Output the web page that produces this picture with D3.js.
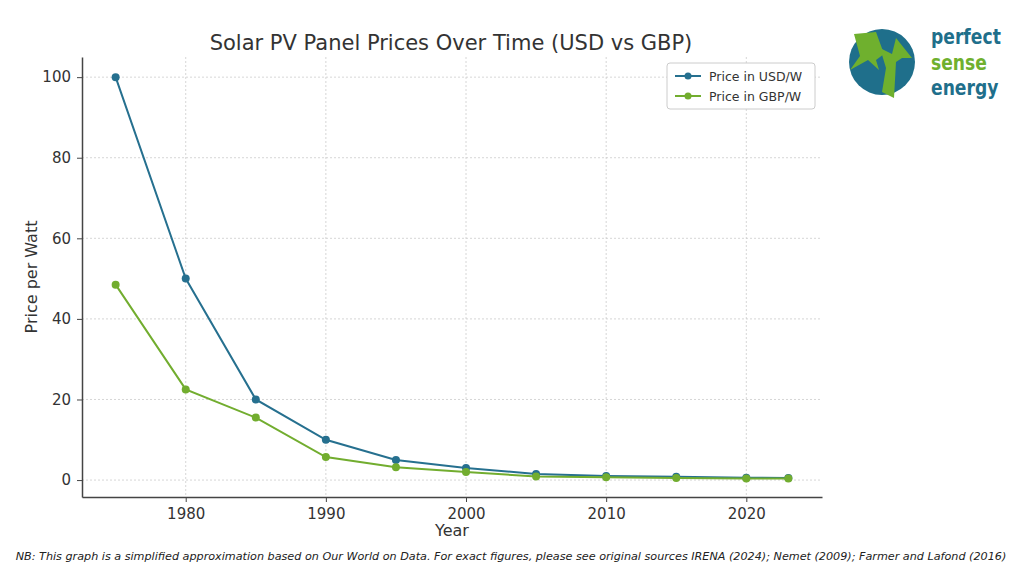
<!DOCTYPE html>
<html><head><meta charset="utf-8">
<script src="https://cdn.jsdelivr.net/npm/d3@7"></script>
<style>body{margin:0;background:#fff}text{font-family:"DejaVu Sans",sans-serif}</style>
</head><body><svg id="c" width="1024" height="576"></svg>
<script>
const years = [1975, 1980, 1985, 1990, 1995, 2000, 2005, 2010, 2015, 2020, 2023];
const usd = [100, 50, 20, 10, 5, 3, 1.5, 1, 0.8, 0.6, 0.5];
const gbp = [48.5, 22.5, 15.5, 5.7, 3.2, 2, 0.9, 0.7, 0.5, 0.4, 0.4];
const xTicks = [1980, 1990, 2000, 2010, 2020];
const yTicks = [0, 20, 40, 60, 80, 100];
const series = [
  {name: "Price in USD/W", values: usd, color: "#26708f"},
  {name: "Price in GBP/W", values: gbp, color: "#72ad2f"}
];

const svg = d3.select("#c");
const pLeft = 82, pRight = 822, pTop = 57, pBottom = 497;
const x = d3.scaleLinear().domain([1972.6, 2025.4]).range([pLeft, pRight]);
const y = d3.scaleLinear().domain([-4.2, 105]).range([pBottom, pTop]);

const grid = svg.append("g").attr("stroke", "#ccc").attr("stroke-dasharray", "2,2").attr("stroke-width", 0.8);
xTicks.forEach(t => grid.append("line").attr("x1", x(t)).attr("x2", x(t)).attr("y1", pTop).attr("y2", pBottom));
yTicks.forEach(t => grid.append("line").attr("x1", pLeft).attr("x2", pRight).attr("y1", y(t)).attr("y2", y(t)));

const xa = svg.append("g").attr("transform", `translate(0,${pBottom})`)
  .call(d3.axisBottom(x).tickValues(xTicks).tickFormat(d3.format("d")).tickSize(5).tickPadding(6).tickSizeOuter(0));
const ya = svg.append("g").attr("transform", `translate(${pLeft},0)`)
  .call(d3.axisLeft(y).tickValues(yTicks).tickSize(5).tickPadding(6).tickSizeOuter(0));
[xa, ya].forEach(a => {
  a.select(".domain").attr("stroke", "#444").attr("stroke-width", 1.5);
  a.selectAll(".tick line").attr("stroke", "#444");
  a.selectAll("text").attr("font-size", 15).attr("fill", "#333").style("font-family", "DejaVu Sans");
});

const line = d3.line().x((d, i) => x(years[i])).y(d => y(d));
series.forEach(s => {
  svg.append("path").datum(s.values).attr("d", line).attr("fill", "none")
    .attr("stroke", s.color).attr("stroke-width", 2);
  svg.append("g").selectAll("circle").data(s.values).join("circle")
    .attr("cx", (d, i) => x(years[i])).attr("cy", d => y(d)).attr("r", 4).attr("fill", s.color);
});

svg.append("text").attr("x", 451).attr("y", 50).attr("text-anchor", "middle")
  .attr("font-size", 21).attr("fill", "#333").text("Solar PV Panel Prices Over Time (USD vs GBP)");
svg.append("text").attr("x", 452).attr("y", 536).attr("text-anchor", "middle")
  .attr("font-size", 16).attr("fill", "#333").text("Year");
svg.append("text").attr("transform", "translate(37,277) rotate(-90)").attr("text-anchor", "middle")
  .attr("font-size", 16).attr("fill", "#333").text("Price per Watt");
svg.append("text").attr("x", 511).attr("y", 560).attr("text-anchor", "middle")
  .attr("font-size", 11.2).attr("font-style", "italic").attr("fill", "#222")
  .text("NB: This graph is a simplified approximation based on Our World on Data. For exact figures, please see original sources IRENA (2024); Nemet (2009); Farmer and Lafond (2016)");

const lg = svg.append("g").attr("transform", "translate(667,63)");
lg.append("rect").attr("width", 148).attr("height", 46).attr("rx", 3).attr("fill", "#fff").attr("stroke", "#ccc");
series.forEach((s, i) => {
  const g = lg.append("g").attr("transform", `translate(8,${13 + i * 20})`);
  g.append("line").attr("x2", 26).attr("stroke", s.color).attr("stroke-width", 2);
  g.append("circle").attr("cx", 13).attr("r", 3.5).attr("fill", s.color);
  g.append("text").attr("x", 34).attr("y", 4.5).attr("font-size", 12.5).attr("fill", "#333").text(s.name);
});

// logo
const logo = svg.append("g").attr("transform", "translate(882,62)");
logo.append("circle").attr("r", 33).attr("fill", "#1f6f8b");
logo.append("path").attr("fill", "#6fb02e")
  .attr("d", "M-28,-28 L-6,-30 L2,-8 L-6,-2 L-3,8 L-14,-2 L-32,8 L-22,-6 Z");
logo.append("path").attr("fill", "#6fb02e")
  .attr("d", "M30,-4 L14,-24 L10,-8 L-2,-14 L4,6 L0,30 L12,36 L14,0 L20,-4 Z");
const lt = svg.append("g").attr("transform", "translate(931,0) scale(0.78,1)")
  .attr("font-weight", "bold").attr("font-size", 22);
lt.append("text").attr("y", 44).attr("fill", "#1f6f8b").text("perfect");
lt.append("text").attr("y", 70).attr("fill", "#6fb02e").text("sense");
lt.append("text").attr("y", 95).attr("fill", "#1f6f8b").text("energy");
</script></body></html>
